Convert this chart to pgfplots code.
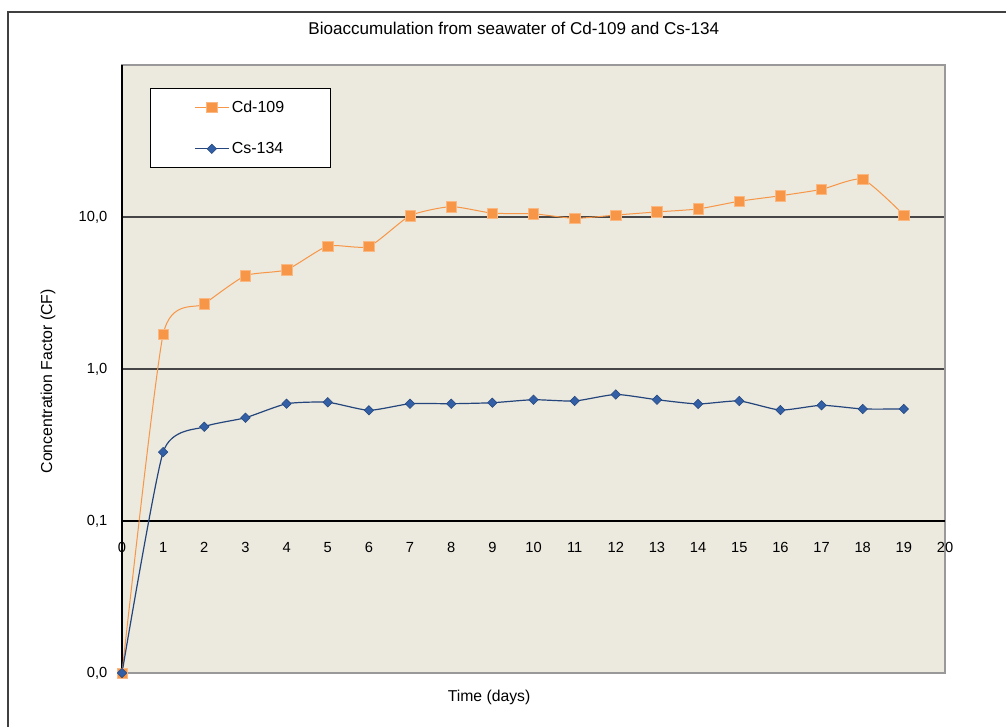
\documentclass[border=0pt]{standalone}
\usepackage{fontspec}
\setmainfont{Liberation Sans}
\usepackage{pgfplots}
\pgfplotsset{compat=1.18}

\definecolor{plotbg}{RGB}{236,233,222}
\definecolor{cdorange}{RGB}{247,150,70}
\definecolor{cdedge}{RGB}{250,185,130}
\definecolor{csline}{RGB}{36,70,124}
\definecolor{csmark}{RGB}{50,95,165}
\definecolor{framegray}{RGB}{64,64,64}
\definecolor{gridgray}{RGB}{70,70,70}

\begin{document}
\begin{tikzpicture}
  % page = 1006x726 px at 0.75pt per px
  \path[use as bounding box] (-91.5pt,-39.75pt) rectangle ++(754.5pt,544.5pt);
  \draw[framegray, line width=1pt] (-85.5pt,-80pt) rectangle (700pt,495.75pt);
  \begin{axis}[
    at={(0,0)}, anchor=south west,
    scale only axis,
    width=617.25pt, height=456pt,
    ymode=log,
    xmin=0, xmax=20, ymin=0.01, ymax=100,
    xtick={0,1,...,20},
    ytick={0.1,1,10},
    yticklabels={{0,1},{1,0},{10,0}},
    extra y ticks={0.01},
    extra y tick labels={\mbox{0,0}},
    extra y tick style={grid=none},
    yminorticks=false,
    major tick length=0pt,
    ymajorgrids,
    grid style={gridgray, line width=0.9pt},
    axis background/.style={fill=plotbg},
    axis line style={draw=gray!80, line width=1.2pt},
    clip=false,
    /pgf/number format/assume math mode=true,
    tick label style={font=\fontsize{11}{13}\selectfont},
    xticklabel style={anchor=base, yshift=90.6pt},
    yticklabel style={xshift=-7.5pt},
    title={Bioaccumulation from seawater of Cd-109 and Cs-134},
    title style={font=\fontsize{12.8}{15}\selectfont, at={(axis description cs:0.476,1.0477)}, anchor=center, yshift=0pt},
    xlabel={Time (days)},
    xlabel style={font=\fontsize{11.8}{14}\selectfont, at={(axis description cs:0.446,-0.0395)}, anchor=center},
    ylabel={Concentration Factor (CF)},
    ylabel style={font=\fontsize{11.9}{14}\selectfont, at={(axis description cs:-0.09,0.48)}, anchor=center},
    legend style={at={(rel axis cs:0.034,0.962)}, anchor=north west,
      draw=black, fill=white, line width=0.8pt,
      inner xsep=33pt, inner ysep=7pt, row sep=17pt,
      font=\fontsize{12}{14}\selectfont},
    legend cell align=left,
    legend image code/.code={%
      \draw[mark repeat=2,mark phase=2,#1] plot coordinates {(0cm,0cm) (0.44cm,0cm) (0.88cm,0cm)};},
  ]
    \draw[black, line width=1.2pt] (axis cs:0,0.1) -- (axis cs:20,0.1);
    \draw[black, line width=1.5pt] (axis cs:0,0.01) -- (axis cs:0,100);

    \addplot[color=cdorange, line width=0.75pt, smooth, tension=0.35,
      mark=square*, mark size=3.9pt, mark options={fill=cdorange, draw=cdedge, line width=0.4pt}]
      coordinates {
        (0,0.01) (1,1.69) (2,2.68) (3,4.11) (4,4.50) (5,6.44) (6,6.40)
        (7,10.2) (8,11.7) (9,10.6) (10,10.5) (11,9.8) (12,10.3) (13,10.8)
        (14,11.3) (15,12.7) (16,13.8) (17,15.2) (18,17.7) (19,10.3)
      };
    \addplot[color=csline, line width=0.9pt, smooth, tension=0.35,
      mark=square*, mark size=2.5pt, mark options={rotate=45, fill=csmark, draw=csline, line width=0.4pt}]
      coordinates {
        (0,0.01) (1,0.284) (2,0.417) (3,0.478) (4,0.591) (5,0.604) (6,0.535)
        (7,0.591) (8,0.591) (9,0.600) (10,0.628) (11,0.616) (12,0.680) (13,0.628)
        (14,0.589) (15,0.616) (16,0.537) (17,0.577) (18,0.546) (19,0.546)
      };
    \legend{Cd-109,Cs-134}
  \end{axis}
\end{tikzpicture}
\end{document}
